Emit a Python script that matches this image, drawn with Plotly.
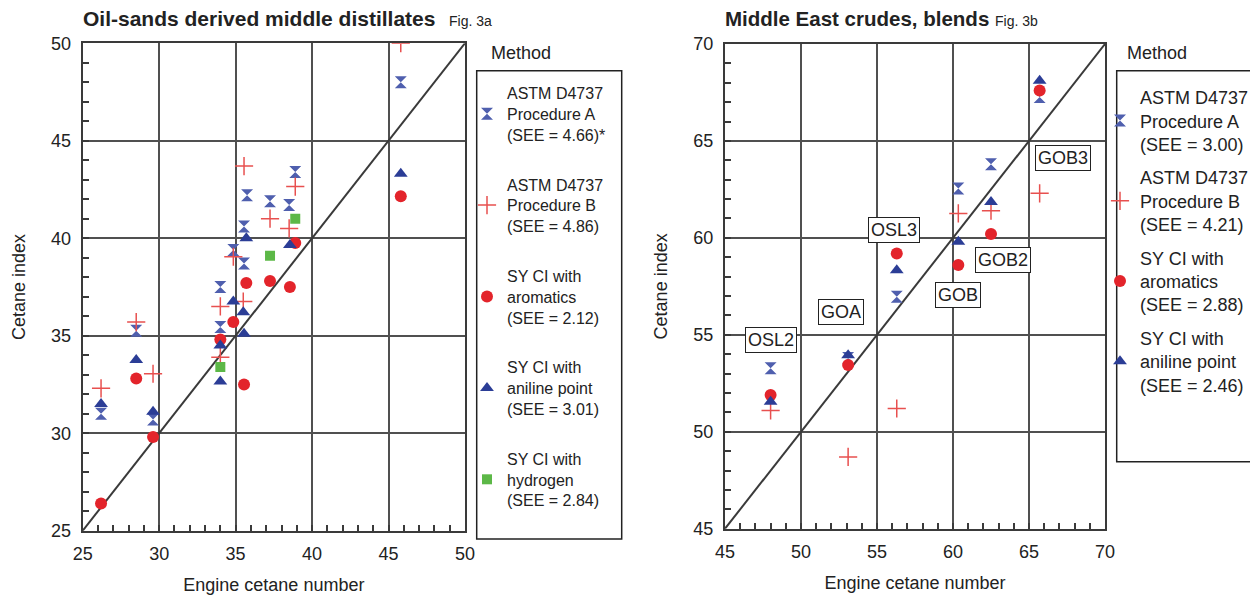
import plotly.graph_objects as go

W, H = 1258, 598
FONT = "Liberation Sans"
OFF = 8  # page body margin of the rendered html

# ---------------- Fig. 3a data (Oil-sands derived middle distillates) ----------------
a_left_x = [26.2, 28.5, 29.6, 34.0, 34.0, 34.85, 35.55, 35.55, 35.75, 37.25, 38.5, 38.9, 45.8]
a_left_y = [31.0, 35.25, 30.7, 37.5, 35.45, 39.4, 40.6, 38.7, 42.2, 41.9, 41.7, 43.4, 48.0]
b_left_x = [26.2, 28.5, 29.6, 34.0, 34.0, 34.85, 35.5, 35.55, 37.25, 38.5, 38.9, 45.8]
b_left_y = [32.3, 35.7, 33.05, 36.5, 33.9, 39.05, 36.75, 43.7, 41.0, 40.5, 42.65, 50.0]
arom_left_x = [26.2, 28.5, 29.6, 34.0, 34.85, 35.55, 35.7, 37.25, 38.55, 38.9, 45.8]
arom_left_y = [26.4, 32.8, 29.8, 34.8, 35.7, 32.5, 37.7, 37.8, 37.5, 39.75, 42.15]
anil_left_x = [26.2, 28.5, 29.6, 34.0, 34.0, 34.85, 35.5, 35.55, 35.7, 38.55, 45.8]
anil_left_y = [31.5, 33.75, 31.1, 34.5, 32.65, 36.75, 36.2, 35.1, 40.0, 39.65, 43.3]
hyd_left_x = [34.0, 37.25, 38.9]
hyd_left_y = [33.4, 39.1, 41.0]

left_names = [
    "ASTM D4737<br>Procedure A<br>(SEE = 4.66)*",
    "ASTM D4737<br>Procedure B<br>(SEE = 4.86)",
    "SY CI with<br>aromatics<br>(SEE = 2.12)",
    "SY CI with<br>aniline point<br>(SEE = 3.01)",
    "SY CI with<br>hydrogen<br>(SEE = 2.84)",
]

# ---------------- Fig. 3b data (Middle East crudes, blends) ----------------
right_x = [48.0, 53.1, 56.3, 60.35, 62.5, 65.7]
a_right_y = [53.27, 53.8, 56.96, 62.55, 63.8, 67.27]
b_right_y = [51.1, 48.7, 51.2, 61.26, 61.4, 62.3]
arom_right_y = [51.9, 53.44, 59.2, 58.6, 60.2, 67.6]
anil_right_y = [51.55, 53.95, 58.33, 59.8, 61.85, 68.1]

right_names = [
    "ASTM D4737<br>Procedure A<br>(SEE = 3.00)",
    "ASTM D4737<br>Procedure B<br>(SEE = 4.21)",
    "SY CI with<br>aromatics<br>(SEE = 2.88)",
    "SY CI with<br>aniline point<br>(SEE = 2.46)",
]

sample_labels = ["OSL2", "GOA", "OSL3", "GOB", "GOB2", "GOB3"]
label_x = [48.05, 52.65, 56.1, 60.35, 63.3, 67.25]
label_y = [54.73, 56.2, 60.42, 57.05, 58.87, 64.13]

left_range = [25, 50]
right_range = [45, 70]

# ---------------- styles ----------------
C_A = "#4f5fae"
C_B = "#e8504f"
C_AR = "#e3242b"
C_AN = "#2b3d96"
C_H = "#5cb847"
GRID = "#505050"

styles = [
    dict(symbol="hourglass", size=12, color=C_A),
    dict(symbol="cross-thin", size=13, color=C_B, line=dict(color=C_B, width=1.5)),
    dict(symbol="circle", size=12, color=C_AR),
    dict(symbol="triangle-up", size=12, color=C_AN),
    dict(symbol="square", size=10, color=C_H),
]

fig = go.Figure()

# diagonal parity lines
fig.add_trace(go.Scatter(x=left_range, y=left_range, mode="lines",
                         line=dict(color="#3a3a3a", width=2), showlegend=False,
                         hoverinfo="skip", xaxis="x", yaxis="y"))
fig.add_trace(go.Scatter(x=right_range, y=right_range, mode="lines",
                         line=dict(color="#3a3a3a", width=2), showlegend=False,
                         hoverinfo="skip", xaxis="x2", yaxis="y2"))

left_sets = [(a_left_x, a_left_y), (b_left_x, b_left_y), (arom_left_x, arom_left_y),
             (anil_left_x, anil_left_y), (hyd_left_x, hyd_left_y)]
for i, ((xs, ys), nm) in enumerate(zip(left_sets, left_names)):
    fig.add_trace(go.Scatter(x=xs, y=ys, mode="markers", name=nm, marker=styles[i],
                             xaxis="x", yaxis="y", legend="legend",
                             legendgroup="L%d" % i))

right_sets = [a_right_y, b_right_y, arom_right_y, anil_right_y]
for i, (ys, nm) in enumerate(zip(right_sets, right_names)):
    fig.add_trace(go.Scatter(x=right_x, y=ys, mode="markers", name=nm, marker=styles[i],
                             xaxis="x2", yaxis="y2", legend="legend2",
                             legendgroup="R%d" % i))

def px_x(p):
    return (p - OFF) / W

def px_y(p):
    return 1 - (p - OFF) / H

axis_common = dict(
    dtick=5, showgrid=True, gridcolor=GRID, gridwidth=2,
    showline=True, mirror=True, linecolor="#3a3a3a", linewidth=2,
    ticks="inside", ticklen=6, tickcolor="#3a3a3a", tickwidth=2,
    ticklabelstandoff=6,
    tickfont=dict(family=FONT, size=18, color="#222"),
    minor=dict(ticks="inside", ticklen=6, dtick=1, tickcolor="#3a3a3a", tickwidth=1.5,
               showgrid=False),
    zeroline=False, fixedrange=True, automargin=False,
)

fig.update_layout(
    width=W, height=H, autosize=False,
    margin=dict(l=0, r=0, t=0, b=0, autoexpand=False),
    plot_bgcolor="white", paper_bgcolor="white",
    font=dict(family=FONT, color="#222"),
    xaxis=dict(axis_common, range=left_range, domain=[px_x(82.7), px_x(465)],
               anchor="y",
               title=dict(text="Engine cetane number", font=dict(size=18), standoff=15)),
    yaxis=dict(axis_common, range=left_range, domain=[px_y(530.7), px_y(43.2)],
               anchor="x",
               title=dict(text="Cetane index", font=dict(size=18), standoff=21)),
    xaxis2=dict(axis_common, range=right_range, domain=[px_x(725), px_x(1105)],
                anchor="y2",
                title=dict(text="Engine cetane number", font=dict(size=18), standoff=15)),
    yaxis2=dict(axis_common, range=right_range, domain=[px_y(528.7), px_y(44)],
                anchor="x2",
                title=dict(text="Cetane index", font=dict(size=18), standoff=21)),
    legend=dict(x=px_x(467), y=px_y(76), xanchor="left", yanchor="top",
                font=dict(family=FONT, size=16, color="#222"),
                bgcolor="rgba(0,0,0,0)", borderwidth=0, tracegroupgap=26,
                traceorder="grouped"),
    legend2=dict(x=px_x(1100), y=px_y(79), xanchor="left", yanchor="top",
                 font=dict(family=FONT, size=18, color="#222"),
                 bgcolor="rgba(0,0,0,0)", borderwidth=0, tracegroupgap=7,
                 traceorder="grouped"),
    showlegend=True,
)

# legend frames
fig.add_shape(type="rect", xref="paper", yref="paper",
              x0=px_x(476.7), x1=px_x(621.7), y0=px_y(539), y1=px_y(70.7),
              line=dict(color="#222", width=1.5), fillcolor="rgba(0,0,0,0)", layer="below")
fig.add_shape(type="rect", xref="paper", yref="paper",
              x0=px_x(1116.7), x1=px_x(1290), y0=px_y(461.7), y1=px_y(70.7),
              line=dict(color="#222", width=1.5), fillcolor="rgba(0,0,0,0)", layer="below")

# titles and legend headers
ann = [
    dict(text="<b>Oil-sands derived middle distillates</b>", x=px_x(81), y=px_y(19),
         font=dict(size=21)),
    dict(text="Fig. 3a", x=px_x(447), y=px_y(21), font=dict(size=14)),
    dict(text="<b>Middle East crudes, blends</b>", x=px_x(723), y=px_y(19),
         font=dict(size=20.5)),
    dict(text="Fig. 3b", x=px_x(993), y=px_y(21), font=dict(size=14)),
    dict(text="Method", x=px_x(489), y=px_y(53), font=dict(size=18)),
    dict(text="Method", x=px_x(1125), y=px_y(53), font=dict(size=18)),
]
for a in ann:
    fig.add_annotation(xref="paper", yref="paper", xanchor="left", yanchor="middle",
                       showarrow=False, text=a["text"], x=a["x"], y=a["y"],
                       font=dict(family=FONT, color="#222", **a["font"]))

for t, lx, ly in zip(sample_labels, label_x, label_y):
    fig.add_annotation(xref="x2", yref="y2", x=lx, y=ly, text=t, showarrow=False,
                       font=dict(family=FONT, size=18, color="#222"),
                       bgcolor="white", bordercolor="#222", borderwidth=1, borderpad=2)

fig.write_html("out.html")
